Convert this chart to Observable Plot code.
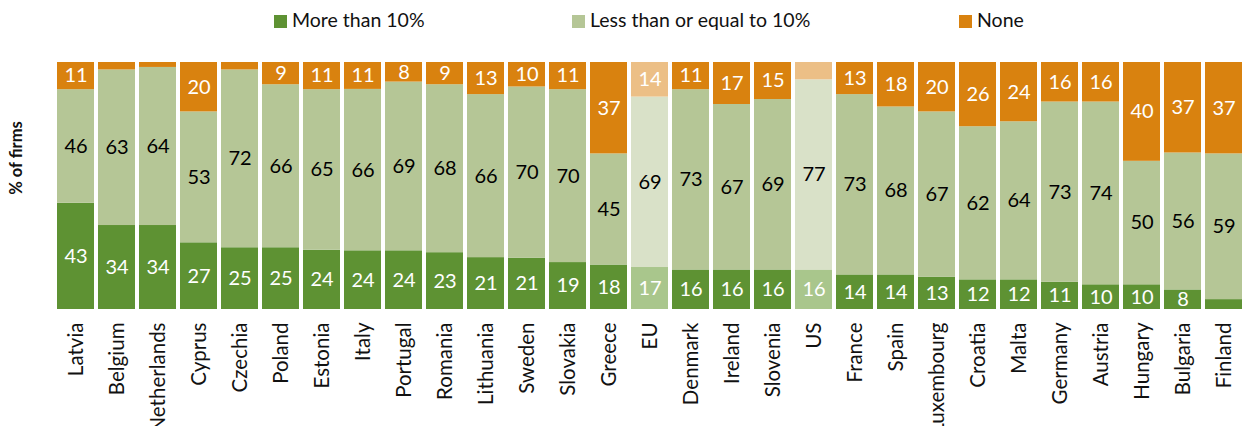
<!DOCTYPE html>
<html>
<head>
<meta charset="utf-8">
<script src="https://cdn.jsdelivr.net/npm/d3@7"></script>
<script src="https://cdn.jsdelivr.net/npm/@observablehq/plot@0.6"></script>
<style>
  body { margin: 0; background: #fff; font-family: Lato, "Open Sans", sans-serif; overflow: hidden; }
  #wrap { position: relative; width: 1252px; height: 426px; }
  #legend { position: relative; height: 40px; }
  .lg { position: absolute; top: 7px; font-size: 19.5px; color: #111; white-space: nowrap; line-height: 26px; }
  .sw { display: inline-block; width: 13px; height: 13px; margin-right: 5px; vertical-align: -1px; }
  #chart { position: absolute; top: 40px; left: 0; }
</style>
</head>
<body>
<div id="wrap">
  <div id="legend"></div>
  <div id="chart"></div>
</div>
<script>
const countries = ["Latvia","Belgium","Netherlands","Cyprus","Czechia","Poland","Estonia","Italy","Portugal","Romania","Lithuania","Sweden","Slovakia","Greece","EU","Denmark","Ireland","Slovenia","US","France","Spain","Luxembourg","Croatia","Malta","Germany","Austria","Hungary","Bulgaria","Finland"];
const moreThan10 = [43,34,34,27,25,25,24,24,24,23,21,21,19,18,17,16,16,16,16,14,14,13,12,12,11,10,10,8,4];
const lessOrEqual10 = [46,63,64,53,72,66,65,66,69,68,66,70,70,45,69,73,67,69,77,73,68,67,62,64,73,74,50,56,59];
const none = [11,3,2,20,3,9,11,11,8,9,13,10,11,37,14,11,17,15,7,13,18,20,26,24,16,16,40,37,37];
const seriesNames = ["More than 10%", "Less than or equal to 10%", "None"];
const seriesColors = ["#5e9233", "#b5c696", "#d9820f"];
const highlightColors = ["#a9c68c", "#d9e1c8", "#ecbf86"];
const highlighted = ["EU", "US"];
const labelColors = ["#ffffff", "#000000", "#ffffff"];

const seriesValues = [moreThan10, lessOrEqual10, none];
const rows = [];
countries.forEach((c, i) => {
  seriesValues.forEach((vals, s) => {
    rows.push({
      country: c,
      series: seriesNames[s],
      value: vals[i],
      fill: highlighted.includes(c) ? highlightColors[s] : seriesColors[s],
      textFill: labelColors[s]
    });
  });
});

// legend
const legendX = [274, 572, 959];
const legend = document.getElementById("legend");
seriesNames.forEach((n, i) => {
  const d = document.createElement("div");
  d.className = "lg";
  d.style.left = legendX[i] + "px";
  d.innerHTML = `<span class="sw" style="background:${seriesColors[i]}"></span>${n}`;
  legend.appendChild(d);
});

const stackOpts = {
  x: "country",
  y: "value",
  z: "series",
  order: seriesNames,
  offset: "normalize"
};

const chart = Plot.plot({
  width: 1252,
  height: 386,
  marginTop: 22,
  marginBottom: 117,
  marginLeft: 48,
  marginRight: 0,
  style: { fontFamily: "Lato, 'Open Sans', sans-serif", fontSize: "20px", color: "#111" },
  x: { domain: countries, paddingInner: 0.088, paddingOuter: 0, label: null },
  y: { domain: [0, 1], axis: null },
  marks: [
    Plot.barY(rows, Plot.stackY({ ...stackOpts, fill: d => d.fill })),
    Plot.text(rows, Plot.stackY({
      ...stackOpts,
      text: d => d.value >= 8 ? String(d.value) : "",
      fill: d => d.textFill,
      fontSize: 20
    })),
    Plot.axisX({ tickSize: 0, tickPadding: 13, tickRotate: -90, label: null, fontSize: 20.5, fill: "#111" }),
    Plot.text(["% of firms"], {
      frameAnchor: "left", dx: -32, dy: -28, rotate: -90, textAnchor: "middle",
      fontWeight: "bold", fontSize: 16.5, fill: "#111"
    })
  ]
});
document.getElementById("chart").appendChild(chart);
</script>
</body>
</html>
